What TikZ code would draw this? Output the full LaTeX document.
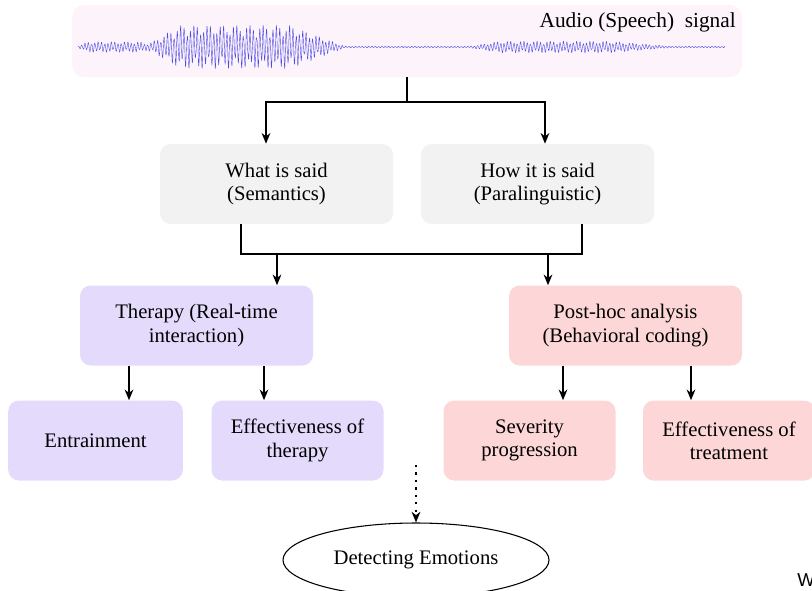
\documentclass[tikz,border=0pt]{standalone}
\usepackage{fontspec}
\setmainfont{Liberation Serif}
\newfontfamily\wmfont{Liberation Sans}
\usetikzlibrary{arrows.meta,shapes.geometric}
\definecolor{sigbg}{HTML}{FDF3FA}
\definecolor{welle}{HTML}{4B4BE6}
\definecolor{grbox}{HTML}{F2F2F2}
\definecolor{lila}{HTML}{E4DBFC}
\definecolor{rosa}{HTML}{FDD7D7}
\tikzset{
  box/.style={rectangle,rounded corners=8pt,inner sep=2pt,align=center,
    minimum height=60pt,font=\fontsize{15.5}{17.5}\selectfont},
  boxw/.style={box,minimum width=174.75pt},
  boxn/.style={box,minimum width=129pt},
  conn/.style={black,line width=1.1pt},
  arr/.style={conn,-{Stealth[length=8pt,width=6.5pt,inset=2.5pt]}},
  punkt/.style={dash pattern=on 1.6pt off 4pt,line width=1.4pt},
}

\begin{document}
\begin{tikzpicture}[x=0.75pt,y=-0.75pt]
  \useasboundingbox (0,0) rectangle (812,590);
  % audio signal
  \node[rectangle,rounded corners=9pt,fill=sigbg,minimum width=502.5pt,minimum height=54pt] (sig) at (407,41) {};
  \node[anchor=east,inner sep=0pt,font=\fontsize{16}{18}\selectfont] (siglab) at (736,22) {Audio (Speech)~ signal};
  \draw[welle,line width=0.3pt,line join=round] plot[domain=78:725,samples=2600]
    (\x,{47+(0.8+4.5*max(0,min(1,(\x-78)/10,(152-\x)/12))+21*max(0,min(1,(\x-145)/35,(345-\x)/55))
       +5*max(0,min(1,(\x-470)/30,(670-\x)/60)))*sin(360*frac(\x/3.3))*(0.35+0.65*abs(sin(360*frac(\x/8.7))))});
  % what / how
  \node[boxw,fill=grbox] (what) at (276.5,184) {What is said\\(Semantics)};
  \node[boxw,fill=grbox] (how) at (537.5,184) {How it is said\\(Paralinguistic)};
  \coordinate (j1) at (407,102);
  \draw[conn] (sig.south) -- (j1);
  \draw[arr] (j1) -| (266,0 |- what.north);
  \draw[arr] (j1) -| (545,0 |- how.north);
  % therapy / post-hoc
  \node[boxw,fill=lila] (therapy) at (196.5,325.5) {Therapy (Real-time\\interaction)};
  \node[boxw,fill=rosa] (post) at (625.5,325.5) {Post-hoc analysis\\(Behavioral coding)};
  \coordinate (bus) at (412,254);
  \draw[conn] (241,0 |- what.south) |- (bus) -| (582,0 |- how.south);
  \draw[arr] (277,0 |- bus) -- (277,0 |- therapy.north);
  \draw[arr] (548,0 |- bus) -- (548,0 |- post.north);
  % outcomes
  \node[boxn,fill=lila,minimum width=131pt] (entr) at (95.5,440.5) {Entrainment};
  \node[boxn,fill=lila] (efth) at (297.5,440.5) {Effectiveness of\\therapy};
  \node[boxn,fill=rosa] (sev) at (529.5,440.5) {Severity\\progression};
  \node[boxn,fill=rosa] (eftr) at (729,440.5) {Effectiveness of\\treatment};
  \draw[arr] (129,0 |- therapy.south) -- (129,0 |- entr.north);
  \draw[arr] (264,0 |- therapy.south) -- (264,0 |- efth.north);
  \draw[arr] (563,0 |- post.south) -- (563,0 |- sev.north);
  \draw[arr] (691,0 |- post.south) -- (691,0 |- eftr.north);
  % emotions
  \node[ellipse,draw,line width=0.8pt,minimum width=199.5pt,minimum height=55.5pt,
    font=\fontsize{15.5}{17.5}\selectfont] (emo) at (416,560) {Detecting Emotions};
  \coordinate (dtop) at (416,465);
  \draw[arr,punkt] (dtop) -- (emo.north);
  \node[anchor=west,inner sep=0pt,font=\wmfont\fontsize{14}{14}\selectfont] (wm) at (797,580) {W};
\end{tikzpicture}
\end{document}
